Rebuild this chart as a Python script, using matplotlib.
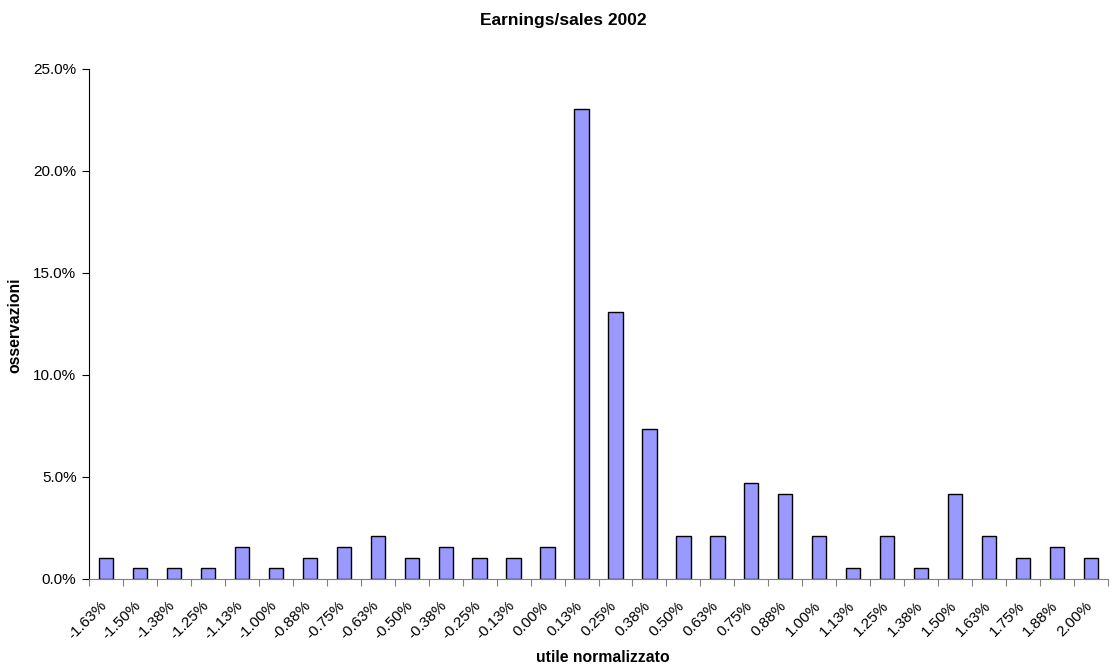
import numpy as np
import matplotlib
matplotlib.use("Agg")
from matplotlib import pyplot as plt
from matplotlib.ticker import FuncFormatter
from matplotlib.transforms import ScaledTranslation

plt.rcParams['font.family'] = ['Liberation Sans', 'DejaVu Sans']

### categories (normalized earnings) and share of observations (%)
categories = ["-1.63%", "-1.50%", "-1.38%", "-1.25%", "-1.13%", "-1.00%", "-0.88%", "-0.75%",
              "-0.63%", "-0.50%", "-0.38%", "-0.25%", "-0.13%", "0.00%", "0.13%", "0.25%",
              "0.38%", "0.50%", "0.63%", "0.75%", "0.88%", "1.00%", "1.13%", "1.25%",
              "1.38%", "1.50%", "1.63%", "1.75%", "1.88%", "2.00%"]
observations = [1.05, 0.52, 0.52, 0.52, 1.57, 0.52, 1.05, 1.57,
                2.09, 1.05, 1.57, 1.05, 1.05, 1.57, 23.04, 13.09,
                7.33, 2.09, 2.09, 4.71, 4.19, 2.09, 0.52, 2.09,
                0.52, 4.19, 2.09, 1.05, 1.57, 1.05]

fig = plt.figure(figsize=(11.16, 6.68), dpi=100)
ax = fig.add_axes([89 / 1116, 1 - 579 / 668, (1108 - 89) / 1116, (579 - 69) / 668])

x = np.arange(len(categories))
ax.bar(x, observations, width=0.42, color="#9999FF", edgecolor="black", linewidth=1.0)

ax.set_xlim(-0.5, len(categories) - 0.5)
ax.set_ylim(0, 25)
ax.set_yticks(np.arange(0, 26, 5))
ax.yaxis.set_major_formatter(FuncFormatter(lambda v, p: f"{v:.1f}%"))

### ticks between categories, labels at the centres
ax.set_xticks(np.arange(len(categories) + 1) - 0.5)
ax.set_xticklabels([])
ax.set_xticks(x, minor=True)
ax.set_xticklabels(categories, minor=True, rotation=45, ha="right",
                   rotation_mode="anchor", fontsize=11)
ax.tick_params(axis="x", which="minor", length=0, pad=14)
ax.tick_params(axis="x", which="major", direction="out", length=5, color="#808080")
ax.tick_params(axis="y", direction="out", length=5, labelsize=11, pad=4)

shift = ScaledTranslation(-6 / 100, 0, fig.dpi_scale_trans)
for lbl in ax.get_xticklabels(minor=True):
    lbl.set_transform(lbl.get_transform() + shift)

for side in ["top", "right"]:
    ax.spines[side].set_visible(False)
ax.spines["bottom"].set_color("#808080")
ax.spines["left"].set_color("black")

fig.text(0.505, 1 - 21 / 668, "Earnings/sales 2002", ha="center", va="center",
         fontsize=12.5, fontweight="bold")
fig.text(603 / 1116, 1 - 657 / 668, "utile normalizzato", ha="center", va="center",
         fontsize=11.3, fontweight="bold")
fig.text(15 / 1116, 1 - 325 / 668, "osservazioni", ha="center", va="center",
         rotation=90, fontsize=11.3, fontweight="bold")

plt.savefig("out.png", dpi=100)
